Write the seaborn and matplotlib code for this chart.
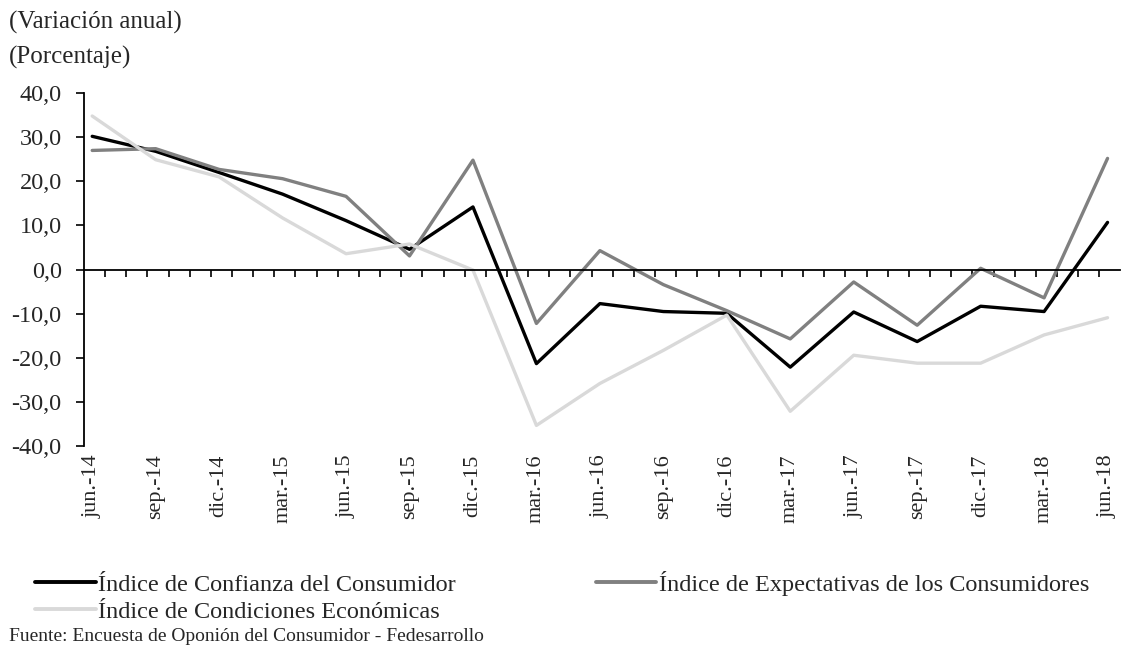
import pandas as pd
import matplotlib
matplotlib.use("Agg")
import matplotlib.pyplot as plt
import matplotlib.ticker as mticker
import seaborn as sns
import numpy as np

quarters = ["jun.-14", "sep.-14", "dic.-14", "mar.-15", "jun.-15", "sep.-15", "dic.-15",
            "mar.-16", "jun.-16", "sep.-16", "dic.-16", "mar.-17", "jun.-17", "sep.-17",
            "dic.-17", "mar.-18", "jun.-18"]

confianza = [30.2, 26.8, 22.0, 17.1, 11.1, 4.6, 14.2, -21.3, -7.7, -9.5, -9.9,
             -22.1, -9.6, -16.3, -8.3, -9.5, 10.7]
expectativas = [27.0, 27.4, 22.7, 20.6, 16.6, 3.1, 24.8, -12.2, 4.3, -3.4, -9.3,
                -15.7, -2.8, -12.6, 0.3, -6.4, 25.2]
condiciones = [34.8, 24.9, 21.0, 11.7, 3.6, 5.8, -0.1, -35.3, -25.8, -18.3, -10.3,
               -32.1, -19.4, -21.2, -21.2, -14.8, -10.9]

series_names = ["Índice de Confianza del Consumidor",
                "Índice de Expectativas de los Consumidores",
                "Índice de Condiciones Económicas"]
colors = ["#000000", "#808080", "#d9d9d9"]

df = pd.DataFrame({
    "pos": list(range(len(quarters))) * 3,
    "valor": confianza + expectativas + condiciones,
    "serie": [s for s in series_names for _ in quarters],
})

sns.set_theme(style="white")
plt.rcParams["font.family"] = ["Liberation Serif", "DejaVu Serif"]

fig = plt.figure(figsize=(11.27, 6.6), dpi=100)
ax = fig.add_axes([0.0745, 0.324, 0.9195, 0.535])

sns.lineplot(data=df, x="pos", y="valor", hue="serie", hue_order=series_names,
             palette=dict(zip(series_names, colors)), linewidth=2.4, legend=False, ax=ax)

ax.set_ylim(-40, 40)
ax.set_xlim(-0.13, 16.2)
ax.set_xlabel("")
ax.set_ylabel("")

ax.yaxis.set_major_locator(mticker.MultipleLocator(10))
ax.yaxis.set_major_formatter(mticker.FuncFormatter(lambda v, p: f"{v:.1f}".replace(".", ",")))
ax.tick_params(axis="y", which="major", direction="out", length=6, width=1.2,
               color="black", labelsize=17.5, pad=10, left=True)

for side in ["top", "right"]:
    ax.spines[side].set_visible(False)
ax.spines["left"].set_color("black")
ax.spines["left"].set_linewidth(1.3)
ax.spines["bottom"].set_position(("data", 0))
ax.spines["bottom"].set_color("black")
ax.spines["bottom"].set_linewidth(1.3)

# monthly tick marks on the zero line, labels on a separate axis at the bottom
ax.xaxis.set_major_locator(mticker.FixedLocator(-0.13 + np.arange(1, 50) / 3))
ax.tick_params(axis="x", which="major", direction="out", length=5, width=1.2,
               color="black", bottom=True, labelbottom=False)

sec = ax.secondary_xaxis("bottom")
sec.set_xticks(range(len(quarters)))
sec.set_xticklabels(quarters, rotation=90)
sec.tick_params(length=0, labelsize=16, pad=6)
sec.spines["bottom"].set_visible(False)

fig.text(0.008, 0.966, "(Variación anual)", fontsize=18, va="center", ha="left")
fig.text(0.008, 0.913, "(Porcentaje)", fontsize=18, va="center", ha="left")

handles = [plt.Line2D([], [], color=c, linewidth=2.8) for c in colors]
# column-first fill: confianza / condiciones in col 1, expectativas in col 2
order = [0, 2, 1]
fig.legend([handles[i] for i in order], [series_names[i] for i in order],
           loc="upper left", bbox_to_anchor=(0.031, 0.135),
           ncol=2, frameon=False, fontsize=17.5, handlelength=2.5, handletextpad=0.1,
           columnspacing=5.75, labelspacing=0.2, borderaxespad=0, borderpad=0)

fig.text(0.008, 0.035, "Fuente: Encuesta de Oponión del Consumidor - Fedesarrollo",
         fontsize=14, va="center", ha="left")

fig.savefig("out.png", dpi=100)
